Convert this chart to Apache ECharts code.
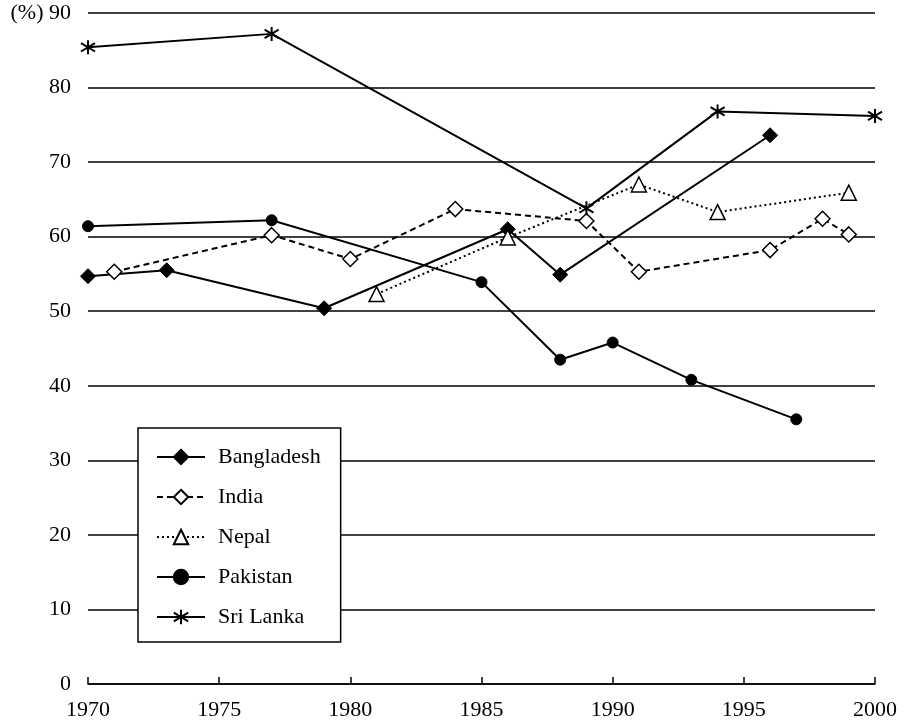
<!DOCTYPE html>
<html>
<head>
<meta charset="utf-8">
<script src="https://cdn.jsdelivr.net/npm/echarts@6/dist/echarts.min.js"></script>
<style>
  html, body { margin: 0; padding: 0; background: #fff; }
  #chart { width: 909px; height: 721px; }
</style>
</head>
<body>
<div id="chart"></div>
<script>
// data
var bangladeshYears = [1970, 1973, 1979, 1986, 1988, 1996];
var bangladeshValues = [54.7, 55.5, 50.4, 61.0, 54.9, 73.6];

var indiaYears = [1971, 1977, 1980, 1984, 1989, 1991, 1996, 1998, 1999];
var indiaValues = [55.3, 60.2, 57.0, 63.7, 62.1, 55.3, 58.2, 62.4, 60.3];

var nepalYears = [1981, 1986, 1991, 1994, 1999];
var nepalValues = [52.3, 59.9, 67.0, 63.3, 65.9];

var pakistanYears = [1970, 1977, 1985, 1988, 1990, 1993, 1997];
var pakistanValues = [61.4, 62.2, 53.9, 43.5, 45.8, 40.8, 35.5];

var sriLankaYears = [1970, 1977, 1989, 1994, 2000];
var sriLankaValues = [85.4, 87.2, 63.8, 76.8, 76.2];

var yearTicks = [1970, 1975, 1980, 1985, 1990, 1995, 2000];

function pairs(xs, ys) {
  return xs.map(function (x, i) { return [x, ys[i]]; });
}

var FONT = "'Liberation Serif', 'DejaVu Serif', serif";
var asterisk = "path://M10,0L10,20M2,4L18,16M2,16L18,4";

var chart = echarts.init(document.getElementById("chart"));
var option = {
  animation: false,
  backgroundColor: "#fff",
  grid: { left: 88, right: 34, top: 13, bottom: 37 },
  legend: {
    orient: "vertical",
    left: 138,
    top: 428,
    padding: [18, 20, 14, 18],
    itemGap: 18,
    itemWidth: 48,
    itemHeight: 18,
    backgroundColor: "#fff",
    borderColor: "#000",
    borderWidth: 1.5,
    borderRadius: 0,
    textStyle: { color: "#000", fontFamily: FONT, fontSize: 22, padding: [0, 0, 0, 8] },
    data: ["Bangladesh", "India", "Nepal", "Pakistan", "Sri Lanka"]
  },
  xAxis: {
    type: "value",
    min: 1970,
    max: 2000,
    interval: 5,
    axisLine: { show: true, lineStyle: { color: "#000", width: 1.5 } },
    axisTick: { show: true, inside: true, length: 7, lineStyle: { color: "#000", width: 1.5 } },
    axisLabel: {
      color: "#000",
      fontFamily: FONT,
      fontSize: 22,
      margin: 15,
      formatter: function (v) { return String(v); }
    },
    splitLine: { show: false }
  },
  yAxis: {
    type: "value",
    min: 0,
    max: 90,
    interval: 10,
    axisLine: { show: false },
    axisTick: { show: false },
    axisLabel: {
      color: "#000",
      fontFamily: FONT,
      fontSize: 22,
      margin: 17,
      formatter: function (v) { return v === 90 ? "(%) 90" : String(v); }
    },
    splitLine: { show: true, lineStyle: { color: "#000", width: 1.5 } }
  },
  series: [
    {
      name: "Bangladesh",
      type: "line",
      data: pairs(bangladeshYears, bangladeshValues),
      symbol: "diamond",
      symbolSize: 15,
      lineStyle: { color: "#000", width: 2, type: "solid" },
      itemStyle: { color: "#000", borderColor: "#000", borderWidth: 1 }
    },
    {
      name: "India",
      type: "line",
      data: pairs(indiaYears, indiaValues),
      symbol: "diamond",
      symbolSize: 15,
      lineStyle: { color: "#000", width: 2, type: [6, 4] },
      itemStyle: { color: "#fff", borderColor: "#000", borderWidth: 1.5 }
    },
    {
      name: "Nepal",
      type: "line",
      data: pairs(nepalYears, nepalValues),
      symbol: "triangle",
      symbolSize: 15,
      lineStyle: { color: "#000", width: 2, type: [2, 3] },
      itemStyle: { color: "#fff", borderColor: "#000", borderWidth: 1.5 }
    },
    {
      name: "Pakistan",
      type: "line",
      data: pairs(pakistanYears, pakistanValues),
      symbol: "circle",
      symbolSize: 11,
      lineStyle: { color: "#000", width: 2, type: "solid" },
      itemStyle: { color: "#000", borderColor: "#000", borderWidth: 1 }
    },
    {
      name: "Sri Lanka",
      type: "line",
      data: pairs(sriLankaYears, sriLankaValues),
      symbol: asterisk,
      symbolSize: 14,
      lineStyle: { color: "#000", width: 2, type: "solid" },
      itemStyle: { color: "#000", borderColor: "#000", borderWidth: 2 }
    }
  ]
};
chart.setOption(option);
</script>
</body>
</html>
